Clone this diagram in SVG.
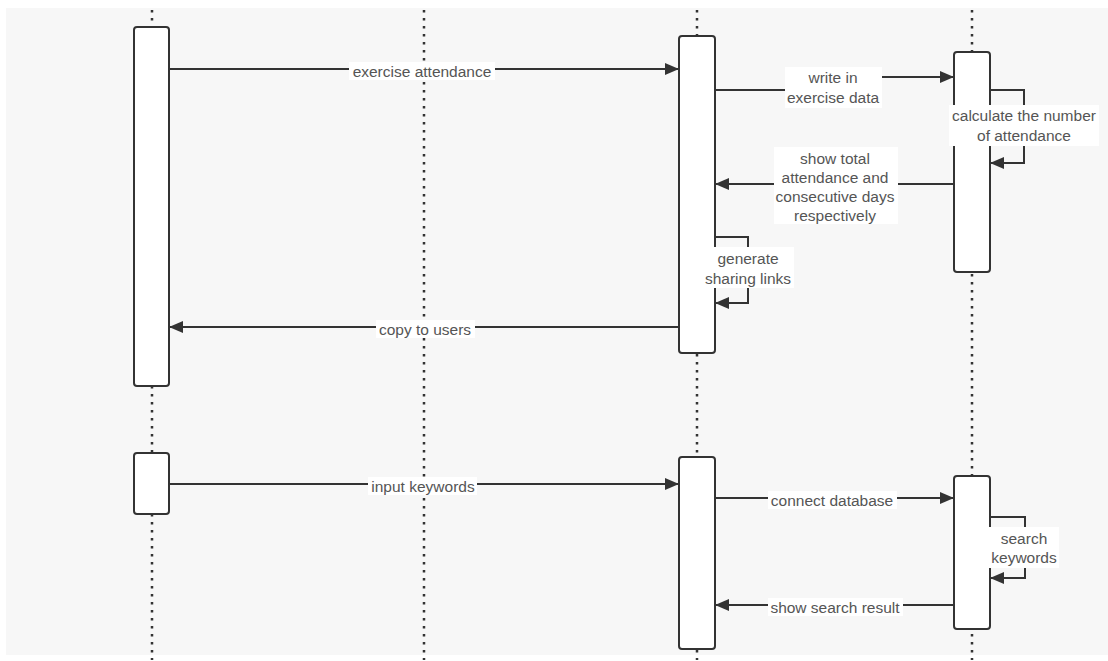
<svg xmlns="http://www.w3.org/2000/svg" width="1108" height="661" viewBox="0 0 1108 661">
  <style>
    .life { stroke: #333; stroke-width: 2.5; stroke-dasharray: 2.5 5.5; fill: none; }
    .act { fill: #fff; stroke: #333; stroke-width: 2; }
    .msg { fill: none; stroke: #333; stroke-width: 2; }
    .lbl-bg { fill: #fff; }
    .lbl { font-family: "Liberation Sans", Arial, sans-serif; font-size: 15.5px; fill: #555; text-anchor: middle; }
  </style>
  <defs>
    <marker id="arrow" viewBox="0 0 14 12" refX="14" refY="6" markerWidth="14" markerHeight="12" markerUnits="userSpaceOnUse" orient="auto">
      <path d="M0,0 L14,6 L0,12 Z" fill="#333"/>
    </marker>
  </defs>

  <rect x="0" y="0" width="1108" height="661" fill="#fff"/>
  <rect x="6" y="8" width="1102" height="647" fill="#f7f7f7"/>

  <!-- lifelines -->
  <g id="lifelines">
    <line class="life" x1="152" y1="10" x2="152" y2="660"/>
    <line class="life" x1="424" y1="10" x2="424" y2="660"/>
    <line class="life" x1="697" y1="10" x2="697" y2="660"/>
    <line class="life" x1="972" y1="10" x2="972" y2="660"/>
  </g>

  <!-- activation bars -->
  <g id="user-act-1"><rect class="act" x="134" y="27" width="35" height="359" rx="3"/></g>
  <g id="user-act-2"><rect class="act" x="134" y="453" width="35" height="61" rx="3"/></g>
  <g id="app-act-1"><rect class="act" x="679" y="36" width="36" height="317" rx="3"/></g>
  <g id="app-act-2"><rect class="act" x="679" y="457" width="36" height="192" rx="3"/></g>
  <g id="db-act-1"><rect class="act" x="954" y="52" width="36" height="220" rx="3"/></g>
  <g id="db-act-2"><rect class="act" x="954" y="476" width="36" height="153" rx="3"/></g>

  <!-- messages -->
  <g id="connectors">
    <path class="msg" d="M169,69 H679" marker-end="url(#arrow)"/>
    <path class="msg" d="M715,90 H835 V77 H954" marker-end="url(#arrow)"/>
    <path class="msg" d="M990,90 H1024 V163 H990" marker-end="url(#arrow)"/>
    <path class="msg" d="M954,184 H715" marker-end="url(#arrow)"/>
    <path class="msg" d="M715,237 H748 V303 H715" marker-end="url(#arrow)"/>
    <path class="msg" d="M679,327 H169" marker-end="url(#arrow)"/>
    <path class="msg" d="M169,484 H679" marker-end="url(#arrow)"/>
    <path class="msg" d="M715,498 H954" marker-end="url(#arrow)"/>
    <path class="msg" d="M990,517 H1025 V578 H990" marker-end="url(#arrow)"/>
    <path class="msg" d="M954,605 H715" marker-end="url(#arrow)"/>
  </g>

  <!-- message labels -->
  <g id="labels">
    <rect class="lbl-bg" x="349" y="62" width="146" height="18"/>
    <text class="lbl" x="422" y="77">exercise attendance</text>

    <rect class="lbl-bg" x="785" y="67" width="97" height="41"/>
    <text class="lbl" x="833" y="83">write in</text>
    <text class="lbl" x="833" y="103">exercise data</text>

    <rect class="lbl-bg" x="949" y="105" width="150" height="41"/>
    <text class="lbl" x="1024" y="121">calculate the number</text>
    <text class="lbl" x="1024" y="141">of attendance</text>

    <rect class="lbl-bg" x="774" y="147" width="124" height="77"/>
    <text class="lbl" x="835" y="164">show total</text>
    <text class="lbl" x="835" y="183">attendance and</text>
    <text class="lbl" x="835" y="202">consecutive days</text>
    <text class="lbl" x="835" y="221">respectively</text>

    <rect class="lbl-bg" x="702" y="247" width="92" height="41"/>
    <text class="lbl" x="748" y="264">generate</text>
    <text class="lbl" x="748" y="284">sharing links</text>

    <rect class="lbl-bg" x="376" y="320" width="99" height="18"/>
    <text class="lbl" x="425" y="335">copy to users</text>

    <rect class="lbl-bg" x="368" y="477" width="109" height="18"/>
    <text class="lbl" x="423" y="492">input keywords</text>

    <rect class="lbl-bg" x="768" y="491" width="129" height="18"/>
    <text class="lbl" x="832" y="506">connect database</text>

    <rect class="lbl-bg" x="989" y="527" width="70" height="41"/>
    <text class="lbl" x="1024" y="544">search</text>
    <text class="lbl" x="1024" y="563">keywords</text>

    <rect class="lbl-bg" x="768" y="598" width="135" height="18"/>
    <text class="lbl" x="835" y="613">show search result</text>
  </g>
</svg>
